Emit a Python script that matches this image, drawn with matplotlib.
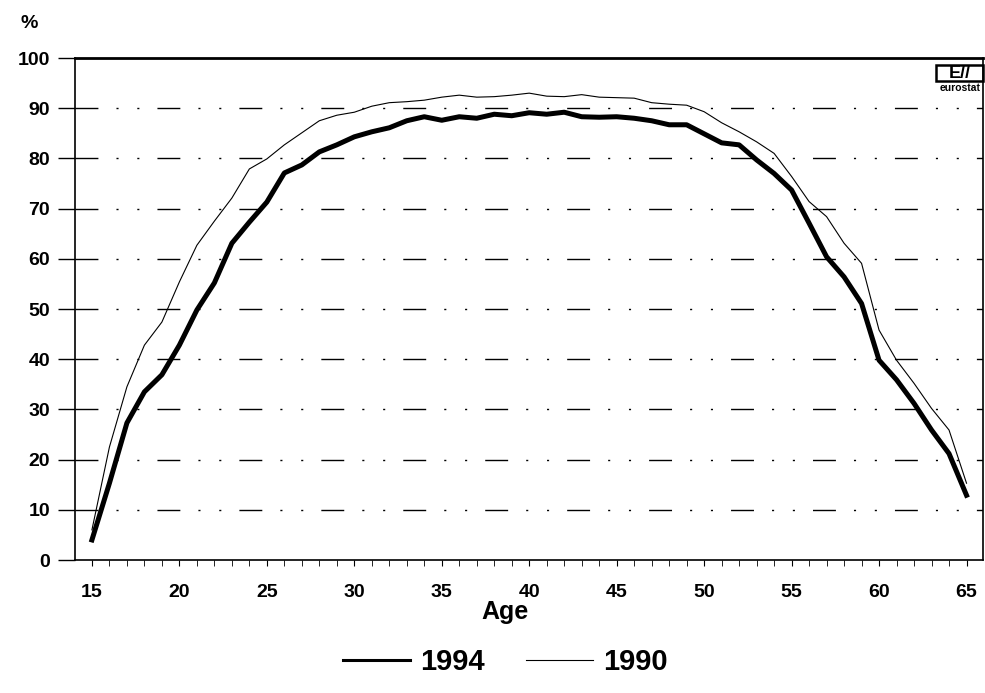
import numpy as np
import matplotlib.pyplot as plt
from matplotlib.patches import Rectangle

plt.rcParams['font.family'] = ['Liberation Sans', 'DejaVu Sans']
plt.rcParams['font.weight'] = 'bold'

ages = np.arange(15, 66)

# 1994 (thick line)
v1994 = [4.0, 15.3, 27.3, 33.5, 36.9, 42.8, 49.8, 55.2, 63.1, 67.3,
         71.3, 77.1, 78.7, 81.3, 82.7, 84.3, 85.3, 86.1, 87.5, 88.3,
         87.6, 88.3, 88.0, 88.8, 88.5, 89.1, 88.8, 89.2, 88.3, 88.2,
         88.3, 88.0, 87.5, 86.7, 86.7, 84.9, 83.1, 82.7, 79.7, 77.0,
         73.7, 67.1, 60.4, 56.4, 51.1, 39.8, 35.9, 31.2, 25.9, 21.2,
         12.9]
# 1990 (thin line)
v1990 = [6.0, 22.5, 34.5, 42.8, 47.4, 55.4, 62.7, 67.5, 72.1, 77.9,
         79.9, 82.7, 85.1, 87.5, 88.6, 89.2, 90.4, 91.1, 91.3, 91.6,
         92.2, 92.6, 92.2, 92.3, 92.6, 93.0, 92.4, 92.3, 92.7, 92.2,
         92.1, 92.0, 91.1, 90.8, 90.6, 89.3, 87.1, 85.3, 83.3, 81.0,
         76.4, 71.4, 68.4, 63.1, 59.1, 45.8, 39.8, 35.2, 30.2, 25.9,
         15.3]

fig = plt.figure(figsize=(9.85, 6.93), dpi=100)
ax = fig.add_axes([0.0761, 0.1919, 0.922, 0.7244])

# grid: long dash + two dots
for y in range(10, 100, 10):
    ax.axhline(y, color='black', lw=1,
               linestyle=(0, (16.5, 13, 1.5, 13.5, 1.5, 13)), zorder=1)

l1, = ax.plot(ages, v1994, color='black', lw=3.6, label='1994', zorder=3)
l2, = ax.plot(ages, v1990, color='black', lw=0.8, label='1990', zorder=2)

ax.set_xlim(14.03, 65.95)
ax.set_ylim(0, 100)
ax.set_yticks(range(0, 101, 10))
ax.set_xticks(range(15, 66, 5))
ax.set_xticks(range(15, 66), minor=True)
ax.tick_params(axis='y', direction='out', length=12, width=1, labelsize=14, pad=6)
ax.tick_params(axis='x', which='major', direction='out', length=4, labelsize=14, pad=13)
ax.tick_params(axis='x', which='minor', direction='out', length=4)
for lab in ax.get_xticklabels() + ax.get_yticklabels():
    lab.set_fontweight('bold')
for s in ax.spines.values():
    s.set_linewidth(1.2)
ax.spines['top'].set_linewidth(2)

fig.text(0.021, 0.9596, '%', fontsize=14, fontweight='bold', ha='left', va='baseline')
fig.text(0.513, 0.107, 'Age', fontsize=18, fontweight='bold', ha='center', va='baseline')

# eurostat logo approximation
ax.add_patch(Rectangle((0.948, 0.954), 0.052, 0.032, transform=ax.transAxes,
                       fill=False, lw=1.8, color='black', clip_on=False))
ax.text(0.974, 0.969, 'E//', transform=ax.transAxes, fontsize=13,
        fontweight='bold', ha='center', va='center')
ax.text(0.975, 0.941, 'eurostat', transform=ax.transAxes, fontsize=7.5,
        fontweight='bold', ha='center', va='center')

fig.legend(handles=[l1, l2], loc='center', bbox_to_anchor=(0.513, 0.045),
           ncol=2, frameon=False, fontsize=21, handlelength=2.3,
           columnspacing=1.4, handletextpad=0.35)
leg = fig.legends[0]
leg.get_lines()[0].set_linewidth(2.2)
for t in leg.get_texts():
    t.set_fontweight('bold')

fig.savefig('out.png', dpi=100)
